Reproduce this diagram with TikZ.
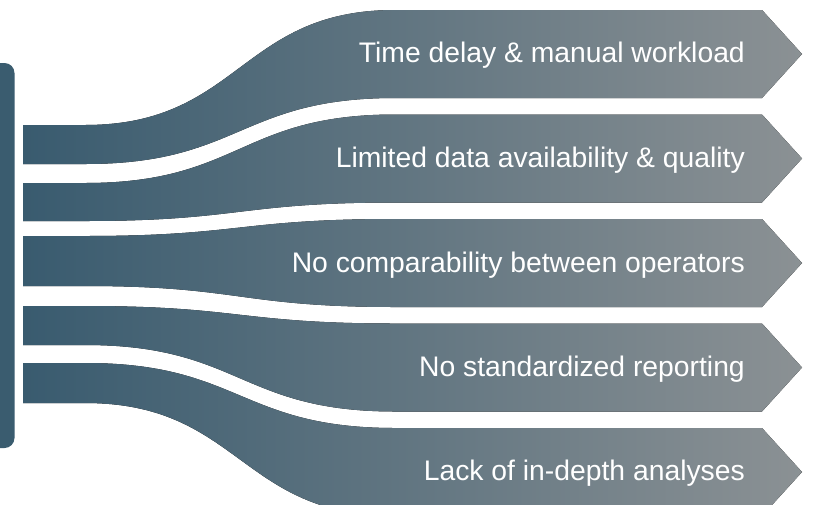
\documentclass[tikz,border=0pt]{standalone}
\usepackage{fontspec}
\setmainfont{Liberation Sans}
\definecolor{bandleft}{RGB}{57,91,111}
\definecolor{bandright}{RGB}{139,145,148}
\definecolor{barcol}{RGB}{58,92,111}
\tikzset{
  bandfill/.style={left color=bandleft, right color=bandright, draw=none},
  bandtext/.style={anchor=base east, text=white, inner sep=0pt,
    font=\fontsize{28.3}{34}\selectfont},
}
% #1 left top, #2 left bottom, #3 right top, #4 right bottom
\newcommand\drawband[4]{%
  \fill[bandfill] (23,#1) -- (85,#1) .. controls (240,#1) and (240,#3) .. (395,#3)
    -- (762,#3) -- (802,{(#3+#4)/2}) -- (762,#4) -- (395,#4)
    .. controls (240,#4) and (240,#2) .. (85,#2) -- (23,#2) -- cycle;}
\begin{document}
\begin{tikzpicture}[x=1pt,y=-1pt]
  \clip (0,0) rectangle (816,504);
  \fill[white] (0,0) rectangle (816,504);
  % left bar
  \fill[barcol, rounded corners=10pt] (-20,63) rectangle (14.5,448);
  % bands
  \drawband{125}{164}{10}{98}
  \drawband{183}{221}{114.5}{202.5}
  \drawband{236}{286}{219}{307}
  \drawband{306}{345}{323.5}{411.5}
  \drawband{363}{403}{428}{516}
  % labels
  \node[bandtext] (t1) at (745,62.5) {Time delay \& manual workload};
  \node[bandtext] (t2) at (745,167) {Limited data availability \& quality};
  \node[bandtext] (t3) at (745,272) {No comparability between operators};
  \node[bandtext] (t4) at (745,376.5) {No standardized reporting};
  \node[bandtext] (t5) at (745,480.5) {Lack of in-depth analyses};
\end{tikzpicture}
\end{document}
